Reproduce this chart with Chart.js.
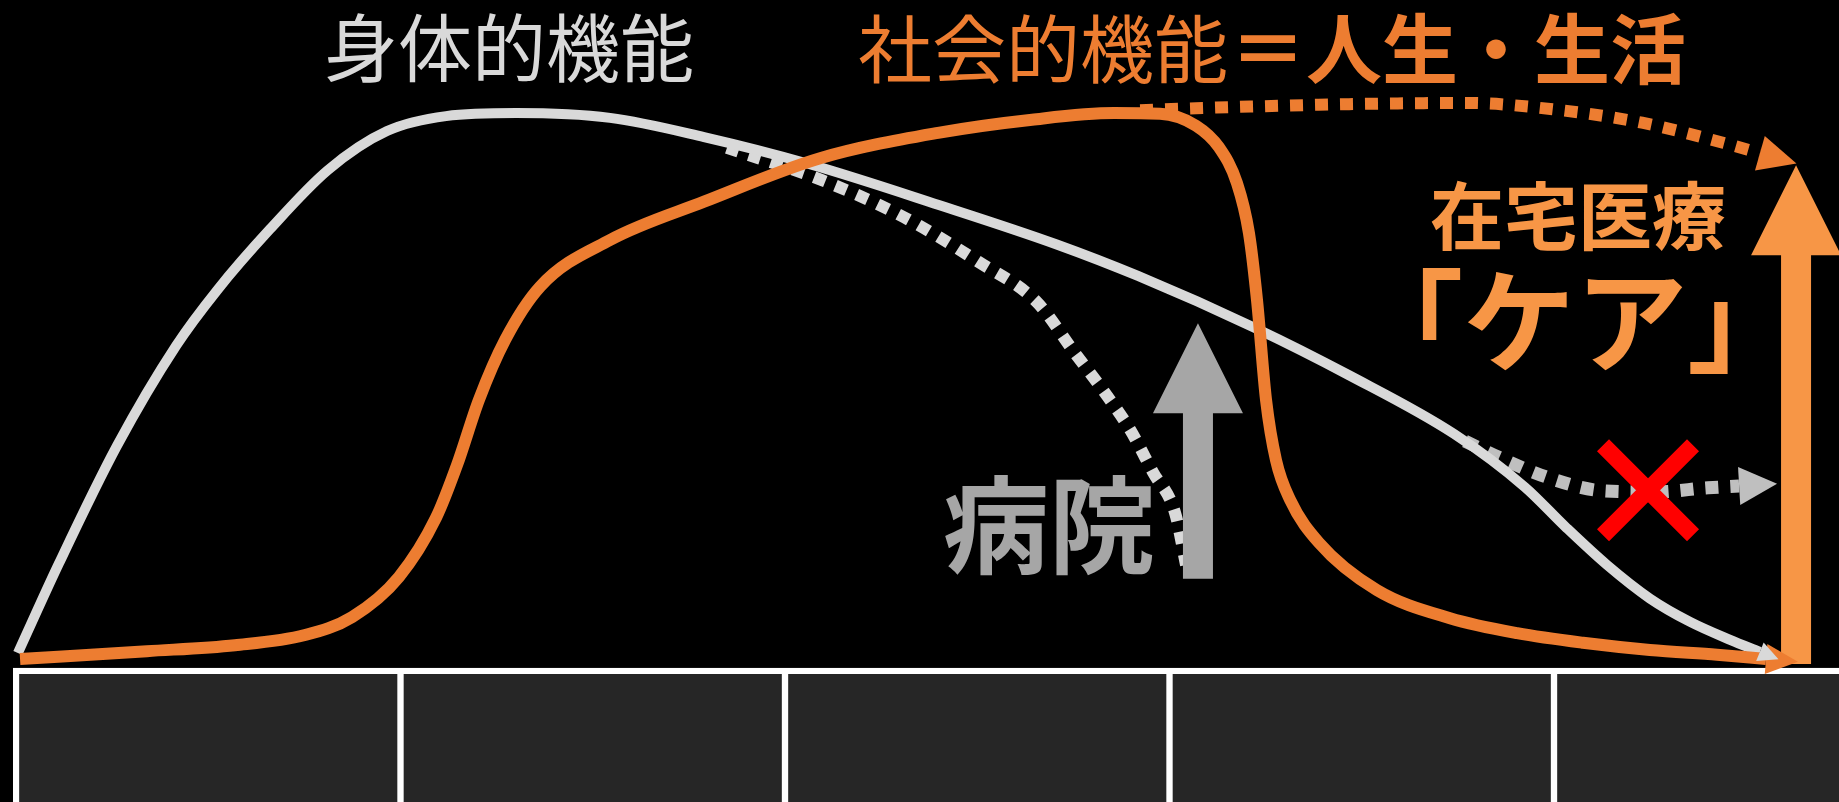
<!DOCTYPE html>
<html>
<head>
<meta charset="utf-8">
<script src="https://cdn.jsdelivr.net/npm/chart.js@4.4.1/dist/chart.umd.min.js"></script>
<style>
  html, body { margin: 0; padding: 0; background: #000; }
  canvas { display: block; }
</style>
</head>
<body>
<canvas id="c" width="1839" height="802"></canvas>
<script>
// ---- data (x: life course 0-100, y: function level) ----
const PHYSICAL_X = [0.10, 2.24, 5.25, 8.32, 10.46, 13.21, 16.23, 19.30, 22.37, 26.01, 30.90, 35.79, 41.25, 47.96, 54.10, 58.36, 64.45, 69.34, 74.80, 78.49, 80.62, 82.76, 84.99, 87.08, 89.16, 90.71];
const PHYSICAL_Y = [2.9, 17.9, 37.5, 54.2, 63.5, 73.7, 83.6, 90.1, 92.6, 93.1, 92.3, 89.1, 84.6, 77.8, 71.2, 65.9, 57.2, 49.3, 39.5, 30.6, 23.9, 17.6, 12.0, 8.1, 5.1, 3.1];

const SOCIAL_X = [0.21, 6.81, 11.39, 15.03, 17.48, 19.92, 21.85, 22.94, 24.08, 25.44, 27.26, 30.90, 35.79, 41.87, 47.96, 52.85, 57.11, 59.51, 61.38, 62.57, 63.51, 64.13, 64.55, 65.02, 65.54, 66.27, 67.78, 70.79, 74.59, 78.08, 81.51, 84.99, 88.48, 91.03];
const SOCIAL_Y = [1.9, 3.2, 4.2, 5.9, 8.9, 15.6, 25.5, 34.3, 45.2, 55.2, 64.1, 71.9, 78.3, 85.6, 89.8, 92.0, 93.1, 93.0, 91.0, 87.4, 81.4, 73.1, 61.9, 45.2, 35.1, 28.5, 21.3, 13.4, 8.7, 6.2, 4.6, 3.4, 2.6, 1.9];

// hospital path (physical decline, dotted)
const HOSPITAL_X = [36.98, 41.92, 46.19, 50.09, 53.11, 55.08, 56.54, 57.95, 59.14, 60.29, 60.86];
const HOSPITAL_Y = [87.3, 81.9, 75.7, 68.2, 61.5, 53.0, 46.8, 40.2, 33.1, 26.3, 17.6];

// home path (physical, crossed out, dotted)
const HOME_X = [75.37, 77.19, 79.79, 82.50, 85.25, 88.01, 89.63];
const HOME_Y = [38.3, 35.5, 32.1, 30.0, 29.8, 30.5, 30.8];

// life continues (social, dotted)
const LIFE_X = [58.47, 63.20, 69.34, 75.42, 80.31, 84.58, 88.84, 90.71];
const LIFE_Y = [93.6, 94.1, 94.6, 94.8, 93.6, 91.5, 88.1, 86.4];

// life-stage cells below the chart
const STAGES = ['', '', '', '', ''];
const STAGE_CENTERS = [10, 30, 50, 70, 90];
const STAGE_EDGES = [0, 20, 40, 60, 80, 100];
const STAGE_RANGE = [-30, -0.6];

// arrows / marks (data units)
const HOSPITAL_ARROW = { x: 61.48, from: 15.3, to: 58.0 };
const CARE_ARROW = { x: 92.59, from: 1.06, to: 84.4 };
const CROSS = { x: 84.89, y: 30.1 };

// texts
const LABEL_PHYSICAL = '身体的機能';
const LABEL_SOCIAL = '社会的機能';
const LABEL_SOCIAL_EQ = '＝人生・生活';
const LABEL_HOME_CARE = '在宅医療';
const LABEL_CARE = '「ケア」';
const LABEL_HOSPITAL = '病院';

const zip = (xs, ys) => xs.map((x, i) => ({ x, y: ys[i] }));

const FONT = '"Noto Sans CJK JP", "Noto Sans CJK SC", sans-serif';

function arrowHead(ctx, tx, ty, ang, len, half, color) {
  ctx.save();
  ctx.translate(tx, ty);
  ctx.rotate(ang);
  ctx.beginPath();
  ctx.moveTo(0, 0);
  ctx.lineTo(-len, -half);
  ctx.lineTo(-len, half);
  ctx.closePath();
  ctx.fillStyle = color;
  ctx.fill();
  ctx.restore();
}

function upArrow(ctx, xs, ys, a, shaftW, headW, headLen, color) {
  const cx = xs.getPixelForValue(a.x);
  const yb = ys.getPixelForValue(a.from);
  const yt = ys.getPixelForValue(a.to);
  ctx.save();
  ctx.fillStyle = color;
  ctx.beginPath();
  ctx.moveTo(cx, yt);
  ctx.lineTo(cx + headW / 2, yt + headLen);
  ctx.lineTo(cx + shaftW / 2, yt + headLen);
  ctx.lineTo(cx + shaftW / 2, yb);
  ctx.lineTo(cx - shaftW / 2, yb);
  ctx.lineTo(cx - shaftW / 2, yt + headLen);
  ctx.lineTo(cx - headW / 2, yt + headLen);
  ctx.closePath();
  ctx.fill();
  ctx.restore();
}

const overlay = {
  id: 'overlay',
  beforeDraw(chart) {
    const ctx = chart.ctx;
    ctx.save();
    ctx.fillStyle = '#000';
    ctx.fillRect(0, 0, chart.width, chart.height);
    ctx.restore();
  },
  beforeDatasetsDraw(chart) {
    const ctx = chart.ctx, xs = chart.scales.x, ys = chart.scales.y;
    const left = xs.getPixelForValue(STAGE_EDGES[0]) - 3;
    const top = ys.getPixelForValue(0.4);
    ctx.save();
    ctx.fillStyle = '#ffffff';
    ctx.fillRect(left, top, chart.width - left, chart.height - top);
    ctx.restore();
  },
  afterDatasetsDraw(chart) {
    const ctx = chart.ctx, xs = chart.scales.x, ys = chart.scales.y;

    upArrow(ctx, xs, ys, HOSPITAL_ARROW, 30, 90, 90, '#a6a6a6');
    upArrow(ctx, xs, ys, CARE_ARROW, 30, 90, 90, '#f79646');

    chart.data.datasets.forEach((ds, i) => {
      if (!ds.arrowHead) return;
      const pts = chart.getDatasetMeta(i).data;
      const a = pts[pts.length - 2], b = pts[pts.length - 1];
      const ang = Math.atan2(b.y - a.y, b.x - a.x);
      const h = ds.arrowHead;
      const tx = b.x + Math.cos(ang) * h.len, ty = b.y + Math.sin(ang) * h.len;
      arrowHead(ctx, tx, ty, ang, h.len, h.half, ds.borderColor);
    });

    const cx = xs.getPixelForValue(CROSS.x), cy = ys.getPixelForValue(CROSS.y);
    ctx.save();
    ctx.strokeStyle = '#ff0000';
    ctx.lineWidth = 17;
    ctx.lineCap = 'butt';
    ctx.beginPath();
    ctx.moveTo(cx - 45, cy - 45); ctx.lineTo(cx + 45, cy + 45);
    ctx.moveTo(cx + 45, cy - 45); ctx.lineTo(cx - 45, cy + 45);
    ctx.stroke();
    ctx.restore();

    ctx.save();
    ctx.textBaseline = 'middle';
    ctx.textAlign = 'center';
    ctx.font = '74px ' + FONT;
    ctx.fillStyle = '#d9d9d9';
    ctx.fillText(LABEL_PHYSICAL, xs.getPixelForValue(25.65), ys.getPixelForValue(104.0));

    ctx.textAlign = 'left';
    ctx.fillStyle = '#ed7d31';
    const sx = xs.getPixelForValue(43.80), sy = ys.getPixelForValue(103.8);
    ctx.font = '74px ' + FONT;
    ctx.fillText(LABEL_SOCIAL, sx, sy);
    const w = ctx.measureText(LABEL_SOCIAL).width;
    ctx.font = 'bold 76px ' + FONT;
    ctx.fillText(LABEL_SOCIAL_EQ, sx + w + 2, sy);

    ctx.textAlign = 'center';
    ctx.fillStyle = '#f79646';
    ctx.font = 'bold 74px ' + FONT;
    ctx.fillText(LABEL_HOME_CARE, xs.getPixelForValue(81.25), ys.getPixelForValue(75.9));
    ctx.font = 'bold 112px ' + FONT;
    ctx.fillText(LABEL_CARE, xs.getPixelForValue(81.1), ys.getPixelForValue(58.3));

    ctx.fillStyle = '#a6a6a6';
    ctx.font = 'bold 106px ' + FONT;
    ctx.fillText(LABEL_HOSPITAL, xs.getPixelForValue(53.73), ys.getPixelForValue(24.4));
    ctx.restore();
  }
};

const lineBase = {
  type: 'line',
  pointRadius: 0,
  pointHoverRadius: 0,
  fill: false,
  cubicInterpolationMode: 'monotone',
  borderJoinStyle: 'round',
};

new Chart(document.getElementById('c'), {
  type: 'line',
  data: {
    datasets: [
      Object.assign({}, lineBase, {
        label: '社会的機能', data: zip(SOCIAL_X, SOCIAL_Y),
        borderColor: '#ed7d31', borderWidth: 12, borderCapStyle: 'butt', order: 1,
        arrowHead: { len: 32, half: 15 }
      }),
      Object.assign({}, lineBase, {
        label: '身体的機能', data: zip(PHYSICAL_X, PHYSICAL_Y),
        borderColor: '#d9d9d9', borderWidth: 10, borderCapStyle: 'butt', order: 2,
        arrowHead: { len: 20, half: 10 }
      }),
      Object.assign({}, lineBase, {
        label: '人生・生活', data: zip(LIFE_X, LIFE_Y),
        borderColor: '#ed7d31', borderWidth: 12, borderDash: [13, 12], borderCapStyle: 'butt', order: 3,
        arrowHead: { len: 38, half: 18 }
      }),
      Object.assign({}, lineBase, {
        label: '在宅', data: zip(HOME_X, HOME_Y),
        borderColor: '#bfbfbf', borderWidth: 13, borderDash: [13, 12], borderCapStyle: 'butt', order: 4,
        arrowHead: { len: 38, half: 19 }
      }),
      Object.assign({}, lineBase, {
        label: '病院', data: zip(HOSPITAL_X, HOSPITAL_Y),
        borderColor: '#d9d9d9', borderWidth: 12, borderDash: [12, 11], borderCapStyle: 'butt', order: 5
      }),
      {
        type: 'bar',
        label: 'stages',
        data: STAGE_CENTERS.map((c, i) => ({ x: c, y: STAGE_RANGE.slice(), stage: STAGES[i] })),
        backgroundColor: '#262626',
        borderWidth: 0,
        barPercentage: 0.9835,
        categoryPercentage: 1,
        grouped: false,
        order: 10
      }
    ]
  },
  options: {
    responsive: false,
    animation: false,
    devicePixelRatio: 1,
    layout: { padding: 0 },
    plugins: { legend: { display: false }, tooltip: { enabled: false }, title: { display: false } },
    scales: {
      x: {
        type: 'linear', display: false, offset: false,
        min: -0.832, max: 94.824,
        afterBuildTicks: (axis) => { axis.ticks = STAGE_EDGES.map(v => ({ value: v })); }
      },
      y: {
        type: 'linear', display: false,
        min: -22, max: 112
      }
    }
  },
  plugins: [overlay]
});
</script>
</body>
</html>
